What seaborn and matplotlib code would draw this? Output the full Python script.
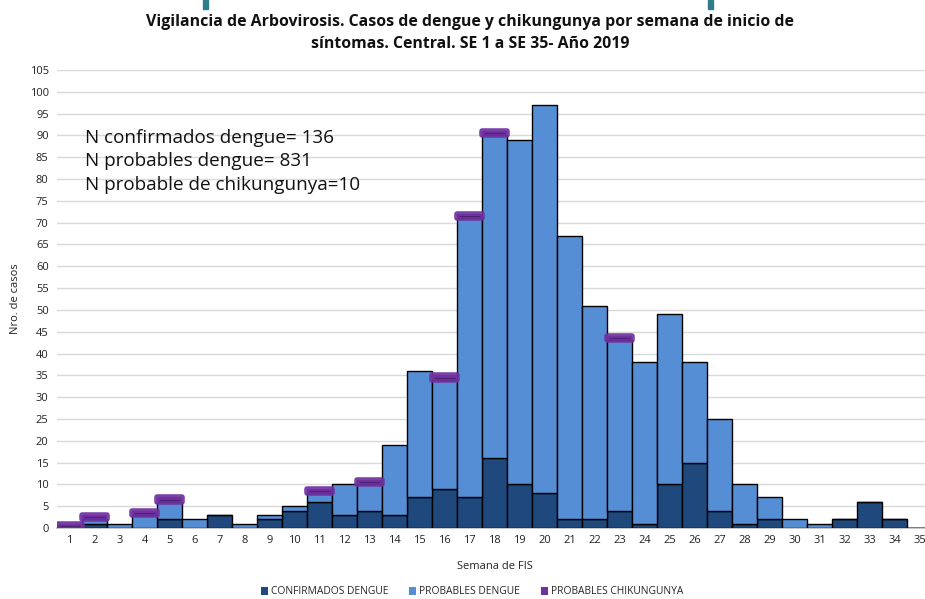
import matplotlib
matplotlib.use("Agg")
import matplotlib.pyplot as plt
import seaborn as sns
import pandas as pd
import numpy as np
from matplotlib.patches import Patch, Rectangle

weeks = [str(i) for i in range(1, 36)]
confirmados = [0, 1, 0, 0, 2, 0, 3, 0, 2, 4, 6, 3, 4, 3, 7, 9, 7, 16, 10, 8,
               2, 2, 4, 1, 10, 15, 4, 1, 2, 0, 0, 2, 6, 2, 0]
probables = [0, 1, 1, 3, 4, 2, 0, 1, 1, 1, 2, 7, 6, 16, 29, 25, 64, 74, 79, 89,
             65, 49, 39, 37, 39, 23, 21, 9, 5, 2, 1, 0, 0, 0, 0]
chikungunya = [1, 1, 0, 1, 1, 0, 0, 0, 0, 0, 1, 0, 1, 0, 0, 1, 1, 1, 0, 0,
               0, 0, 1, 0, 0, 0, 0, 0, 0, 0, 0, 0, 0, 0, 0]
yticks = list(range(0, 110, 5))
title = ("Vigilancia de Arbovirosis. Casos de dengue y chikungunya por semana de inicio de\n"
         "síntomas. Central. SE 1 a SE 35- Año 2019")
notes = ["N confirmados dengue= 136", "N probables dengue= 831", "N probable de chikungunya=10"]
legend_labels = ["CONFIRMADOS DENGUE", "PROBABLES DENGUE", "PROBABLES CHIKUNGUNYA"]

C_DARK = "#1F497D"
C_LIGHT = "#558ED5"
C_PURP = "#7030A0"

sns.set_theme(style="white")
plt.rcParams["font.family"] = ["Open Sans", "DejaVu Sans"]

df = pd.DataFrame({"week": weeks, "conf": confirmados, "prob": probables, "chik": chikungunya})
df["top"] = df["conf"] + df["prob"]

fig = plt.figure(figsize=(9.25, 5.99), dpi=100)
ax = fig.add_axes([57 / 925, 71 / 599, 875 / 925, 458 / 599])

sns.barplot(data=df, x="week", y="conf", order=weeks, color=C_DARK, saturation=1,
            width=1.0, edgecolor="black", linewidth=1.0, ax=ax, zorder=3)
sns.barplot(data=df, x="week", y="prob", order=weeks, color=C_LIGHT, saturation=1,
            width=1.0, edgecolor="black", linewidth=1.0, ax=ax, zorder=3,
            bottom=df["conf"].to_numpy())
# chikungunya caps stacked on top of dengue totals
sns.barplot(data=df, x="week", y="chik", order=weeks, color=C_PURP, saturation=1,
            width=1.0, edgecolor=C_PURP, linewidth=4.0, ax=ax, zorder=4,
            bottom=df["top"].to_numpy().astype(float), alpha=0.92)
for p in ax.patches[-35:]:
    if p.get_height() == 0:
        p.set_visible(False)
    else:
        p.set_joinstyle("round")
        x0 = p.get_x()
        yc = p.get_y() + p.get_height() / 2
        ax.plot([x0 + 0.08, x0 + p.get_width() - 0.08], [yc, yc], color="#4B2070",
                linewidth=0.8, zorder=5, solid_capstyle="butt")

ax.set_xlim(-0.5, 34.5)
ax.set_ylim(0, 105)
ax.set_yticks(yticks)
ax.set_yticklabels([str(v) for v in yticks], fontsize=8, color="#222222")
ax.tick_params(axis="x", labelsize=8, colors="#222222", length=0, pad=5)
ax.tick_params(axis="y", length=0, pad=6)
ax.yaxis.grid(True, color="#d9d9d9", linewidth=1.0, zorder=0)
ax.set_axisbelow(True)
for s in ["top", "right", "left"]:
    ax.spines[s].set_visible(False)
ax.spines["bottom"].set_color("#bfbfbf")
ax.set_xlabel("Semana de FIS", fontsize=8, color="#222222", labelpad=11)
ax.set_ylabel("Nro. de casos", fontsize=8, color="#222222", labelpad=6)

for i, t in enumerate(notes):
    fig.text(85 / 925, 1 - (138 + i * 23.5) / 599, t, fontsize=13.6, color="#111111",
             va="center", ha="left")

fig.text(470 / 925, 1 - 33 / 599, title, fontsize=11.4, fontweight="bold",
         ha="center", va="center", color="#111111", linespacing=1.45)

# cropped header remnants
for xp in (203, 708):
    fig.patches.append(Rectangle((xp / 925, 1 - 9 / 599), 5 / 925, 9 / 599,
                                 transform=fig.transFigure, color="#2F7C8C"))

handles = [Patch(facecolor=C_DARK, edgecolor="none"),
           Patch(facecolor=C_LIGHT, edgecolor="none"),
           Patch(facecolor=C_PURP, edgecolor="none")]
fig.legend(handles, legend_labels, loc="center", bbox_to_anchor=(472 / 925, 1 - 592 / 599),
           ncol=3, frameon=False, fontsize=7.4, handlelength=0.7, handleheight=0.7,
           handletextpad=0.3, columnspacing=2.0)

fig.savefig("out.png", dpi=100)
